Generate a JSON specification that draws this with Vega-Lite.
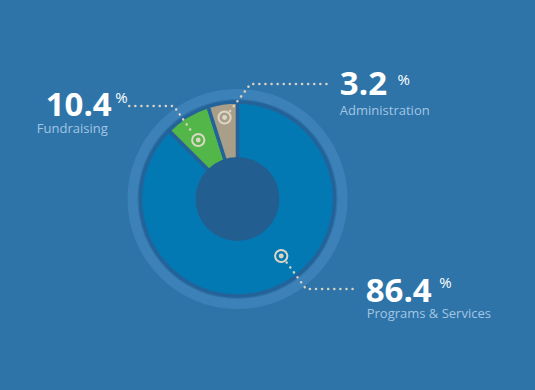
{
  "$schema": "https://vega.github.io/schema/vega-lite/v6.json",
  "width": 535,
  "height": 390,
  "autosize": {"type": "fit", "contains": "padding"},
  "padding": {"left": 0, "right": 57, "top": 8, "bottom": 0},
  "background": "#2e74a8",
  "config": {"view": {"stroke": null}},
  "datasets": {
    "ring": [{"part": "ring", "share": 1}],
    "hole": [{"part": "hole", "share": 1}],
    "slices": [
      {"category": "Programs & Services", "share": 87.5},
      {"category": "Fundraising", "share": 7.6},
      {"category": "Administration", "share": 4.9}
    ],
    "markers": [
      {"category": "Programs & Services", "x": 44, "y": -57},
      {"category": "Fundraising", "x": -39.5, "y": 59},
      {"category": "Administration", "x": -13, "y": 81.5}
    ],
    "leaders": [
      {"category": "Administration", "step": 1, "x": -7.5, "y": 88},
      {"category": "Administration", "step": 2, "x": 13, "y": 115},
      {"category": "Administration", "step": 3, "x": 93, "y": 115},
      {"category": "Fundraising", "step": 1, "x": -109, "y": 93},
      {"category": "Fundraising", "step": 2, "x": -64, "y": 93},
      {"category": "Fundraising", "step": 3, "x": -45.5, "y": 66.5},
      {"category": "Programs & Services", "step": 1, "x": 49.5, "y": -63.5},
      {"category": "Programs & Services", "step": 2, "x": 69, "y": -90},
      {"category": "Programs & Services", "step": 3, "x": 118, "y": -90}
    ],
    "values": [
      {"category": "Fundraising", "label": "10.4", "x": -193, "y": 83},
      {"category": "Administration", "label": "3.2", "x": 103, "y": 104},
      {"category": "Programs & Services", "label": "86.4", "x": 129, "y": -103}
    ],
    "percents": [
      {"category": "Fundraising", "label": "%", "x": -123, "y": 96},
      {"category": "Administration", "label": "%", "x": 161, "y": 114},
      {"category": "Programs & Services", "label": "%", "x": 203, "y": -89}
    ],
    "names": [
      {"category": "Fundraising", "x": -202, "y": 66},
      {"category": "Administration", "x": 103, "y": 84},
      {"category": "Programs & Services", "x": 130, "y": -119}
    ]
  },
  "layer": [
    {
      "data": {"name": "ring"},
      "mark": {"type": "arc", "radius": 110, "radius2": 100, "color": "#3c81b7"},
      "encoding": {"theta": {"field": "share", "type": "quantitative"}}
    },
    {
      "data": {"name": "slices"},
      "mark": {"type": "arc", "outerRadius": 97, "stroke": "#24639a", "strokeWidth": 3.5},
      "encoding": {
        "theta": {"field": "share", "type": "quantitative"},
        "order": {"field": "category", "sort": "descending"},
        "color": {
          "field": "category",
          "type": "nominal",
          "scale": {"domain": ["Programs & Services", "Fundraising", "Administration"], "range": ["#0379b4", "#52b748", "#a99e88"]},
          "legend": null
        }
      }
    },
    {
      "data": {"name": "hole"},
      "mark": {"type": "arc", "outerRadius": 42, "color": "#225e90"},
      "encoding": {"theta": {"field": "share", "type": "quantitative"}}
    },
    {
      "data": {"name": "leaders"},
      "mark": {"type": "line", "color": "#d6d1c2", "strokeWidth": 2.5, "strokeDash": [0.1, 6], "strokeCap": "round"},
      "encoding": {
        "x": {"field": "x", "type": "quantitative", "scale": {"domain": [-239, 239]}, "axis": null},
        "y": {"field": "y", "type": "quantitative", "scale": {"domain": [-191, 191]}, "axis": null},
        "detail": {"field": "category"},
        "order": {"field": "step"}
      }
    },
    {
      "data": {"name": "markers"},
      "mark": {"type": "point", "shape": "circle", "filled": false, "size": 150, "strokeWidth": 2, "color": "#ddd6c4", "opacity": 1},
      "encoding": {
        "x": {"field": "x", "type": "quantitative", "scale": {"domain": [-239, 239]}, "axis": null},
        "y": {"field": "y", "type": "quantitative", "scale": {"domain": [-191, 191]}, "axis": null}
      }
    },
    {
      "data": {"name": "markers"},
      "mark": {"type": "point", "shape": "circle", "filled": true, "size": 24, "color": "#ddd6c4", "opacity": 1},
      "encoding": {
        "x": {"field": "x", "type": "quantitative", "scale": {"domain": [-239, 239]}, "axis": null},
        "y": {"field": "y", "type": "quantitative", "scale": {"domain": [-191, 191]}, "axis": null}
      }
    },
    {
      "data": {"name": "values"},
      "mark": {"type": "text", "align": "left", "baseline": "alphabetic", "font": "Open Sans", "fontWeight": "bold", "fontSize": 33, "color": "#ffffff"},
      "encoding": {
        "x": {"field": "x", "type": "quantitative", "scale": {"domain": [-239, 239]}, "axis": null},
        "y": {"field": "y", "type": "quantitative", "scale": {"domain": [-191, 191]}, "axis": null},
        "text": {"field": "label"}
      }
    },
    {
      "data": {"name": "percents"},
      "mark": {"type": "text", "align": "left", "baseline": "alphabetic", "font": "Open Sans", "fontSize": 15, "color": "#ffffff"},
      "encoding": {
        "x": {"field": "x", "type": "quantitative", "scale": {"domain": [-239, 239]}, "axis": null},
        "y": {"field": "y", "type": "quantitative", "scale": {"domain": [-191, 191]}, "axis": null},
        "text": {"field": "label"}
      }
    },
    {
      "data": {"name": "names"},
      "mark": {"type": "text", "align": "left", "baseline": "alphabetic", "font": "Open Sans", "fontSize": 13, "color": "#a3c6e4"},
      "encoding": {
        "x": {"field": "x", "type": "quantitative", "scale": {"domain": [-239, 239]}, "axis": null},
        "y": {"field": "y", "type": "quantitative", "scale": {"domain": [-191, 191]}, "axis": null},
        "text": {"field": "category"}
      }
    }
  ],
  "resolve": {"scale": {"theta": "independent"}}
}
